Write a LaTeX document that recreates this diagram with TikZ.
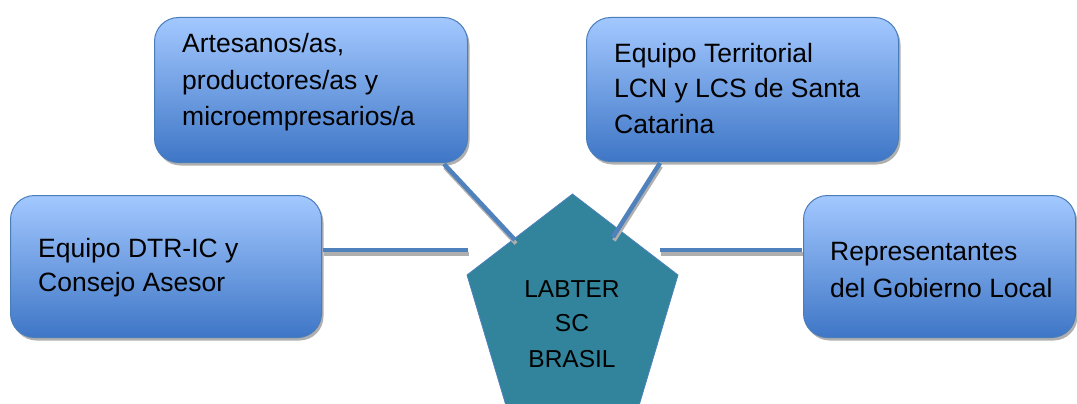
\documentclass[tikz,border=0pt]{standalone}
\usepackage{fontspec}
\setmainfont{Liberation Sans}
\usetikzlibrary{shadows,calc}
\definecolor{boxtop}{RGB}{163,200,255}
\definecolor{boxbot}{RGB}{62,118,198}
\definecolor{boxedge}{RGB}{74,126,187}
\definecolor{linec}{RGB}{79,129,189}
\definecolor{pentc}{RGB}{49,132,155}
\definecolor{shad}{RGB}{175,175,175}
\begin{document}
\begin{tikzpicture}[x=1pt,y=-1pt,
  box/.style={draw=boxedge, line width=1pt, rounded corners=24pt,
    top color=boxtop, bottom color=boxbot,
    drop shadow={shadow xshift=2pt, shadow yshift=-3pt, fill=shad, opacity=1},
    anchor=north west, inner sep=0pt},
  txt/.style={anchor=base west, inner sep=0pt, font=\fontsize{26.5}{30}\selectfont},
  ctxt/.style={anchor=base, inner sep=0pt, font=\fontsize{24.5}{30}\selectfont},
  conn/.style={draw=linec, line width=4.5pt},
  connshadow/.style={draw=shad, line width=4pt, transform canvas={shift={(1pt,-3.5pt)}}}]
\useasboundingbox (0,0) rectangle (1077,404);
\clip (0,0) rectangle (1077,404);

% centre pentagon
\filldraw[fill=pentc, draw=linec, line width=0.8pt]
  (572.5,194) -- (678,275) -- (638,409) -- (507,409) -- (467,275) -- cycle;

% boxes
\node[box, minimum width=311pt, minimum height=142pt] (lb) at (10,195) {};
\node[box, minimum width=313pt, minimum height=145pt] (tl) at (154,17) {};
\node[box, minimum width=312pt, minimum height=144pt] (tr) at (586,17) {};
\node[box, minimum width=272pt, minimum height=142pt] (rb) at (803,195) {};

% connector end points
\coordinate (lA) at ($(lb.north east)+(1,55)$);
\coordinate (lB) at (468,250);
\coordinate (rA) at (660,250);
\coordinate (rB) at ($(rb.north west)+(-1,55)$);
\coordinate (tlA) at ($(tl.south east)+(-24,1)$);
\coordinate (tlB) at (515,240);
\coordinate (trA) at ($(tr.south west)+(74,1)$);
\coordinate (trB) at (613,237);

% connector shadows and connectors
\draw[connshadow] (lA) -- (lB);
\draw[connshadow] (rA) -- (rB);
\draw[connshadow] (tlA) -- (tlB);
\draw[connshadow] (trA) -- (trB);
\draw[conn] (lA) -- (lB);
\draw[conn] (rA) -- (rB);
\draw[conn] (tlA) -- (tlB);
\draw[conn] (trA) -- (trB);

% texts
\node[txt] (l1) at (38,257) {Equipo DTR-IC y};
\node[txt] (l2) at (38,291) {Consejo Asesor};
\node[txt] (t1) at (182,53) {Artesanos/as,};
\node[txt] (t2) at (182,89) {productores/as y};
\node[txt] (t3) at (182,125) {microempresarios/a};
\node[txt] (u1) at (614,63) {Equipo Territorial};
\node[txt] (u2) at (614,98) {LCN y LCS de Santa};
\node[txt] (u3) at (614,133) {Catarina};
\node[txt] (r1) at (830,260) {Representantes};
\node[txt] (r2) at (830,297) {del Gobierno Local};
\node[ctxt] (c1) at (572,297) {LABTER};
\node[ctxt] (c2) at (572,331) {SC};
\node[ctxt] (c3) at (572,367) {BRASIL};
\end{tikzpicture}
\end{document}
